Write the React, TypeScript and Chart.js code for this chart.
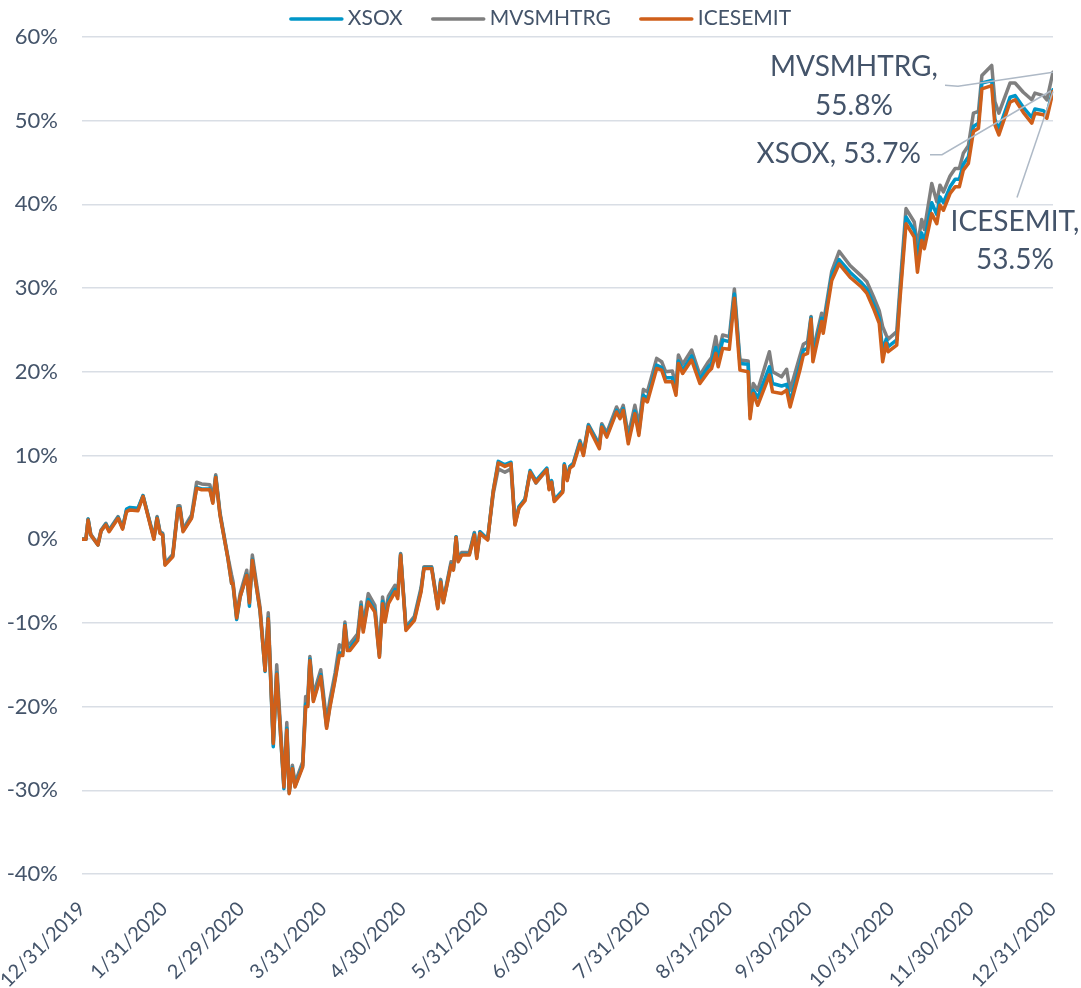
import React, { useEffect, useRef } from "react";
import { Chart, registerables } from "chart.js";

Chart.register(...registerables);

// x position: calendar days after 12/31/2019
const days = [
  0, 1.5, 2.3, 3.3, 6.0, 7.2, 9.0, 10.2, 13.6, 15.3,
  16.8, 18.1, 21.1, 23.0, 27.1, 28.3, 29.4, 30.4, 31.3, 34.2,
  36.2, 36.9, 38.1, 41.3, 43.2, 45.1, 48.2, 49.3, 50.4, 52.0,
  55.0, 56.4, 56.9, 58.3, 59.6, 62.1, 63.1, 64.2, 67.1, 69.0,
  70.2, 72.1, 73.4, 76.1, 77.2, 78.1, 79.3, 80.3, 83.2, 84.3,
  85.1, 85.9, 87.2, 90.0, 92.2, 93.5, 95.4, 97.0, 98.3, 99.1,
  100.0, 101.0, 103.9, 105.2, 106.0, 107.9, 110.4, 112.1, 113.3, 114.2,
  115.5, 118.0, 119.0, 120.1, 122.1, 125.3, 127.8, 128.9, 131.8, 134.1,
  135.2, 136.2, 139.1, 140.0, 141.0, 141.8, 143.1, 146.0, 147.9, 148.8,
  150.0, 152.9, 155.0, 156.9, 159.4, 161.7, 163.2, 164.7, 167.0, 168.9,
  171.1, 175.2, 176.1, 177.0, 178.0, 181.2, 181.8, 182.9, 183.9, 185.2,
  187.7, 189.0, 190.9, 195.0, 195.9, 197.8, 201.5, 202.8, 204.0, 205.9,
  208.4, 209.9, 211.6, 213.1, 216.6, 218.5, 220.0, 222.5, 223.9, 224.8,
  226.4, 229.8, 232.9, 236.1, 237.3, 238.9, 239.8, 241.5, 244.0, 245.9,
  248.0, 251.1, 251.8, 253.0, 254.7, 259.1, 260.3, 263.7, 265.6, 266.9,
  270.6, 271.9, 273.5, 274.8, 275.5, 278.8, 279.4, 282.6, 285.4, 289.5,
  293.9, 295.8, 298.3, 300.5, 301.8, 303.1, 303.9, 307.1, 308.3, 310.6,
  313.7, 314.9, 316.5, 317.5, 320.3, 322.2, 323.4, 324.7, 327.2, 329.1,
  330.7, 332.2, 334.1, 336.0, 337.9, 339.2, 342.9, 344.1, 345.6, 349.8,
  351.7, 354.8, 358.0, 359.2, 362.4, 363.7, 366,
];

const icesemit = [
  0.0, 0.0, 2.3, 0.5, -0.7, 1.0, 1.7, 0.9, 2.5, 1.2,
  3.3, 3.5, 3.4, 5.1, 0.0, 2.5, 0.7, 0.5, -3.1, -2.1,
  3.7, 3.7, 0.9, 2.5, 6.1, 5.9, 5.9, 4.3, 7.4, 2.9,
  -2.3, -5.3, -5.3, -9.4, -6.9, -4.3, -7.6, -2.5, -8.5, -15.7,
  -9.5, -24.4, -16.1, -29.6, -22.8, -30.4, -27.4, -29.6, -27.2, -20.0,
  -20.0, -14.5, -19.4, -16.4, -22.6, -20.0, -16.8, -13.9, -13.9, -10.3,
  -13.3, -13.3, -12.1, -8.1, -11.1, -7.5, -8.7, -14.1, -7.7, -9.9,
  -7.7, -6.3, -7.1, -1.9, -10.9, -9.7, -6.3, -3.5, -3.5, -8.3,
  -5.1, -7.6, -3.1, -3.7, 0.2, -2.7, -1.9, -1.9, 0.5, -2.3,
  0.7, -0.1, 5.7, 9.1, 8.7, 9.0, 1.7, 3.7, 4.6, 8.0,
  6.8, 8.3, 5.9, 6.8, 4.5, 5.6, 8.8, 7.0, 8.5, 8.8,
  11.4, 10.0, 13.4, 10.8, 13.4, 12.2, 15.2, 14.4, 15.4, 11.4,
  15.0, 12.4, 16.8, 16.4, 20.4, 20.2, 18.8, 18.8, 17.2, 21.0,
  19.8, 21.4, 18.6, 20.0, 20.4, 22.2, 20.6, 22.8, 22.7, 28.8,
  20.2, 20.0, 14.4, 17.4, 16.0, 19.6, 17.6, 17.4, 17.8, 15.8,
  20.2, 22.0, 22.2, 26.3, 21.2, 26.0, 24.6, 30.9, 32.9, 31.3,
  30.1, 29.4, 27.6, 25.8, 21.2, 23.4, 22.4, 23.2, 28.6, 37.7,
  36.1, 31.9, 35.7, 34.7, 38.9, 37.7, 39.9, 39.3, 41.3, 42.1,
  42.1, 44.1, 44.9, 48.7, 49.1, 53.8, 54.2, 49.5, 48.3, 52.2,
  52.5, 51.0, 49.7, 50.9, 50.7, 50.3, 53.5,
];

const xsox = [
  0.0, 0.0, 2.4, 0.5, -0.7, 1.0, 1.8, 1.0, 2.6, 1.3,
  3.6, 3.8, 3.7, 5.2, 0.1, 2.6, 0.8, 0.6, -3.0, -2.0,
  3.8, 3.8, 1.0, 2.6, 6.2, 6.0, 6.0, 4.4, 7.5, 3.0,
  -2.3, -5.3, -5.4, -9.6, -6.9, -4.2, -8.0, -2.4, -8.6, -15.8,
  -9.4, -24.8, -16.0, -29.8, -22.6, -30.3, -27.3, -29.5, -27.0, -19.7,
  -19.8, -14.3, -19.2, -16.2, -22.4, -19.8, -16.6, -13.6, -13.6, -10.2,
  -13.0, -13.0, -11.8, -7.9, -10.8, -7.2, -8.5, -14.0, -7.4, -9.6,
  -7.4, -6.0, -6.8, -1.8, -10.7, -9.5, -6.1, -3.4, -3.4, -8.2,
  -5.0, -7.5, -3.0, -3.6, 0.3, -2.6, -1.8, -1.8, 0.7, -2.2,
  0.9, 0.0, 5.8, 9.3, 8.9, 9.2, 1.9, 3.9, 4.8, 8.2,
  7.0, 8.5, 6.1, 7.0, 4.7, 5.8, 9.0, 7.2, 8.7, 9.0,
  11.6, 10.2, 13.6, 11.1, 13.6, 12.4, 15.4, 14.6, 15.6, 11.8,
  15.3, 12.7, 17.2, 16.8, 20.8, 20.5, 19.3, 19.3, 17.6, 21.3,
  20.2, 21.9, 19.1, 20.6, 21.0, 22.9, 21.4, 23.8, 23.6, 29.3,
  21.0, 20.9, 14.8, 17.8, 16.9, 20.6, 18.6, 18.3, 18.5, 16.4,
  20.8, 22.6, 22.8, 26.5, 21.9, 26.4, 25.1, 31.5, 33.4, 31.9,
  30.6, 29.9, 28.1, 26.4, 22.5, 23.9, 23.0, 23.8, 29.2, 38.5,
  36.9, 33.5, 36.6, 35.5, 40.2, 38.8, 40.9, 40.2, 42.1, 43.0,
  43.0, 44.8, 45.7, 49.3, 49.7, 54.5, 54.8, 50.2, 49.0, 52.8,
  53.0, 51.6, 50.4, 51.4, 51.2, 50.8, 53.7,
];

const mvsmhtrg = [
  0.0, 0.1, 2.4, 0.6, -0.6, 1.1, 1.9, 1.1, 2.7, 1.4,
  3.5, 3.7, 3.6, 5.2, 0.2, 2.7, 0.9, 0.7, -2.9, -1.8,
  4.0, 4.0, 1.2, 2.9, 6.8, 6.6, 6.5, 4.8, 7.7, 3.2,
  -2.1, -4.3, -5.0, -9.2, -6.5, -3.7, -7.3, -1.9, -8.1, -15.3,
  -8.8, -24.2, -15.0, -29.2, -21.9, -30.0, -27.0, -29.1, -26.6, -18.8,
  -19.0, -14.0, -18.6, -15.6, -21.8, -19.1, -16.0, -12.6, -13.0, -9.9,
  -12.6, -12.5, -11.3, -7.5, -10.4, -6.5, -7.9, -13.7, -6.9, -9.0,
  -6.8, -5.5, -6.4, -1.7, -10.5, -9.2, -5.8, -3.3, -3.3, -7.9,
  -4.8, -7.3, -2.7, -3.4, 0.3, -2.4, -1.6, -1.6, 0.8, -1.9,
  0.9, 0.0, 5.4, 8.4, 8.0, 8.4, 1.8, 3.8, 4.8, 8.0,
  6.7, 8.3, 6.0, 6.9, 4.7, 5.8, 8.9, 7.2, 8.7, 9.1,
  11.8, 10.4, 13.7, 11.3, 13.8, 12.7, 15.8, 15.0, 16.0, 12.4,
  16.0, 13.6, 17.9, 17.6, 21.6, 21.2, 20.0, 20.1, 18.3, 22.0,
  20.9, 22.6, 19.6, 21.2, 21.7, 24.2, 22.1, 24.4, 24.2, 29.9,
  21.4, 21.3, 15.5, 18.6, 17.8, 22.4, 20.0, 19.4, 20.3, 17.8,
  21.9, 23.3, 23.6, 26.6, 22.5, 27.0, 25.7, 32.0, 34.4, 32.7,
  31.4, 30.8, 29.0, 27.3, 25.4, 24.4, 23.9, 24.8, 30.0, 39.5,
  37.9, 35.0, 38.2, 37.0, 42.5, 40.3, 42.3, 41.5, 43.4, 44.3,
  44.3, 46.1, 47.0, 50.9, 51.1, 55.4, 56.6, 52.3, 50.9, 54.5,
  54.5, 53.4, 52.5, 53.3, 53.0, 52.5, 55.8,
];

const seriesNames = ["XSOX", "MVSMHTRG", "ICESEMIT"];
const seriesColors = ["#0096C8", "#7F7F7F", "#CF5F1A"];

const tickDays = [0, 31, 60, 91, 121, 152, 182, 213, 244, 274, 305, 335, 366];
const tickLabels = [
  "12/31/2019", "1/31/2020", "2/29/2020", "3/31/2020", "4/30/2020", "5/31/2020",
  "6/30/2020", "7/31/2020", "8/31/2020", "9/30/2020", "10/31/2020", "11/30/2020", "12/31/2020",
];

const TEXT = "#44546A";
const FONT = "Lato";

const legendPlugin = {
  id: "customLegend",
  afterDraw(chart: any) {
    const ctx = chart.ctx;
    ctx.save();
    ctx.font = `21px ${FONT}`;
    const items = chart.data.datasets.map((ds: any) => ({
      label: ds.label,
      color: ds.borderColor,
      w: ctx.measureText(ds.label).width,
    }));
    const lineLen = 53, gap = 5, itemGap = 29;
    const total = items.reduce((s: number, it: any) => s + lineLen + gap + it.w, 0) + itemGap * (items.length - 1);
    let x = chart.width / 2 - total / 2;
    const y = 19;
    for (const it of items) {
      ctx.strokeStyle = it.color;
      ctx.lineWidth = 3.5;
      ctx.lineCap = "round";
      ctx.beginPath();
      ctx.moveTo(x + 1, y);
      ctx.lineTo(x + lineLen - 1, y);
      ctx.stroke();
      ctx.fillStyle = TEXT;
      ctx.textBaseline = "middle";
      ctx.textAlign = "left";
      ctx.fillText(it.label, x + lineLen + gap, y - 1);
      x += lineLen + gap + it.w + itemGap;
    }
    ctx.restore();
  },
};

const endLabelPlugin = {
  id: "endLabels",
  afterDatasetsDraw(chart: any) {
    const { ctx } = chart;
    const xs = chart.scales.x;
    const ys = chart.scales.y;
    const last = days.length - 1;
    const px = xs.getPixelForValue(days[last]);
    const pX = ys.getPixelForValue(xsox[last]);
    const pM = ys.getPixelForValue(mvsmhtrg[last]);
    const pI = ys.getPixelForValue(icesemit[last]);
    const poly = (pts: number[][]) => {
      ctx.beginPath();
      ctx.moveTo(pts[0][0], pts[0][1]);
      for (let i = 1; i < pts.length; i++) ctx.lineTo(pts[i][0], pts[i][1]);
      ctx.stroke();
    };
    ctx.save();
    ctx.strokeStyle = "#AEB9C6";
    ctx.lineWidth = 1.5;
    poly([[px - 108, pM + 13], [px - 95, pM + 14], [px, pM]]);
    poly([[px - 123, pX + 65], [px - 111, pX + 65], [px - 2, pX + 1]]);
    poly([[px - 36, pI + 106], [px, pI]]);
    ctx.fillStyle = TEXT;
    ctx.font = `28px ${FONT}`;
    ctx.textBaseline = "middle";
    ctx.textAlign = "center";
    ctx.fillText(`${seriesNames[1]},`, px - 199, pM - 5);
    ctx.fillText(`${mvsmhtrg[last].toFixed(1)}%`, px - 199, pM + 34);
    ctx.textAlign = "right";
    ctx.fillText(`${seriesNames[0]}, ${xsox[last].toFixed(1)}%`, px - 132, pX + 64);
    ctx.textAlign = "center";
    ctx.fillText(`${seriesNames[2]},`, px - 38, pI + 131);
    ctx.fillText(`${icesemit[last].toFixed(1)}%`, px - 38, pI + 169);
    ctx.restore();
  },
};

export default function App() {
  const ref = useRef<HTMLCanvasElement>(null);
  useEffect(() => {
    const values = [xsox, mvsmhtrg, icesemit];
    const orders = [1, 2, 0];
    const chart = new Chart(ref.current as HTMLCanvasElement, {
      type: "line",
      data: {
        datasets: seriesNames.map((name, k) => ({
          label: name,
          data: days.map((d, i) => ({ x: d, y: values[k][i] })),
          borderColor: seriesColors[k],
          backgroundColor: seriesColors[k],
          borderWidth: 3.5,
          pointRadius: 0,
          tension: 0,
          fill: false,
          borderJoinStyle: "round",
          borderCapStyle: "round",
          order: orders[k],
        })),
      },
      options: {
        responsive: false,
        devicePixelRatio: 1,
        animation: false,
        layout: { padding: { top: 37, right: 28, left: 0, bottom: 0 } },
        plugins: { legend: { display: false }, tooltip: { enabled: false } },
        scales: {
          x: {
            type: "linear",
            min: tickDays[0],
            max: tickDays[tickDays.length - 1],
            afterBuildTicks: (s: any) => {
              s.ticks = tickDays.map((v) => ({ value: v }));
            },
            afterFit: (s: any) => {
              s.height = 114;
              s.paddingLeft = 0;
              s.paddingRight = 0;
            },
            ticks: {
              autoSkip: false,
              minRotation: 45,
              maxRotation: 45,
              padding: 15,
              color: TEXT,
              font: { family: FONT, size: 20 },
              callback: (_v: any, i: number) => tickLabels[i],
            },
            grid: { display: false },
            border: { display: false },
          },
          y: {
            min: -40,
            max: 60,
            afterFit: (s: any) => {
              s.width = 82;
              s.paddingTop = 0;
              s.paddingBottom = 0;
            },
            ticks: {
              stepSize: 10,
              padding: 24,
              color: TEXT,
              font: { family: FONT, size: 22 },
              callback: (v: any) => `${v}%`,
            },
            grid: { color: "#D9DEE5", lineWidth: 1.5, drawTicks: false },
            border: { display: false },
          },
        },
      },
      plugins: [legendPlugin, endLabelPlugin],
    } as any);
    return () => chart.destroy();
  }, []);
  return (
    <div style={{ position: "absolute", left: 0, top: 0, width: 1081, height: 988, background: "#fff" }}>
      <canvas ref={ref} width={1081} height={988} style={{ display: "block", width: 1081, height: 988 }} />
    </div>
  );
}
